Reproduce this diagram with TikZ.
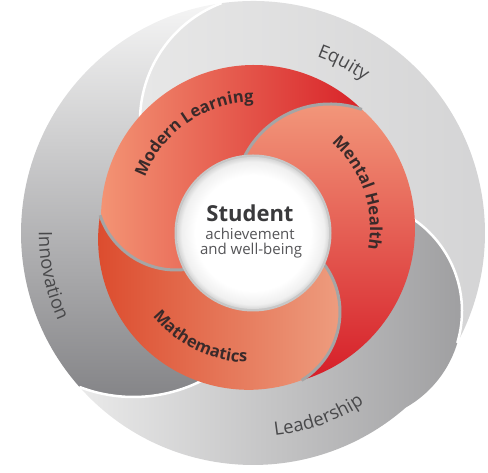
\documentclass[tikz,border=0pt]{standalone}
\usepackage{fontspec}
\setmainfont{Open Sans}
\usetikzlibrary{calc,decorations.text}
\definecolor{mlA}{RGB}{243,148,116}
\definecolor{mlB}{RGB}{216,34,40}
\definecolor{mhA}{RGB}{243,155,125}
\definecolor{mhB}{RGB}{214,30,40}
\definecolor{maA}{RGB}{238,158,128}
\definecolor{maB}{RGB}{220,76,46}
\definecolor{eqA}{RGB}{232,232,232}
\definecolor{eqB}{RGB}{212,212,213}
\definecolor{ldA}{RGB}{234,234,234}
\definecolor{ldB}{RGB}{156,156,158}
\definecolor{inA}{RGB}{245,245,245}
\definecolor{inB}{RGB}{130,130,133}
\definecolor{redtxt}{RGB}{58,42,42}
\definecolor{graytxt}{RGB}{72,72,74}
\definecolor{ctrtxt}{RGB}{58,58,60}
\definecolor{ctrsub}{RGB}{85,85,88}
\definecolor{headshadow}{RGB}{165,165,165}
\pgfdeclareradialshading{wdisc}{\pgfpoint{0bp}{0bp}}{color(0bp)=(white); color(19bp)=(white); color(23.5bp)=(black!6); color(25bp)=(black!16); color(50bp)=(black!16)}
\tikzset{
  graylabel/.style={decorate, decoration={text along path, text align=center, text color=graytxt,
     text={|\fontsize{18.5pt}{18.5pt}\selectfont|#1}}},
  redlabel/.style={decorate, decoration={text along path, text align=center, text color=redtxt,
     text={|\fontsize{16.5pt}{16.5pt}\selectfont\bfseries|#1}}},
  grayhead/.style={draw=white, line width=2.5pt},
  redhead/.style={draw=headshadow, line width=3pt}
}
\begin{document}
\begin{tikzpicture}[x=1pt,y=1pt]
\useasboundingbox (0,0) rectangle (488,473);
\coordinate (O) at (253,240);
\coordinate (H1) at (176,283);
\coordinate (C1) at (254,255);
\coordinate (H2) at (330,273);
\coordinate (C2) at (256,245);
\coordinate (H3) at (260,161);
\coordinate (C3) at (248.6,233.7);
\coordinate (G1) at (266,352);
\coordinate (G2) at (351,162);
\coordinate (G3) at (133.5,227);

% ---- gray ring ----
\shade[left color=eqA, right color=eqB]
  ($(G1)+(200:126pt)$) arc[start angle=200, end angle=110.65, radius=126pt]
  -- ($(O)+(97.8:232pt)$) arc[start angle=97.8, end angle=-28.3, radius=232pt]
  -- ($(G2)+(-16.7:111pt)$) arc[start angle=-16.7, end angle=150, radius=111pt]
  -- cycle;
\shade[left color=ldA, right color=ldB]
  ($(G2)+(150:111pt)$) arc[start angle=150, end angle=-60.4, radius=111pt]
  -- ($(O)+(-48.8:232pt)$) arc[start angle=-48.8, end angle=-138.4, radius=232pt]
  -- ($(G3)+(-111:151pt)$) arc[start angle=-111, end angle=-50, radius=151pt]
  -- cycle;
\shade[top color=inA, bottom color=inB]
  ($(G3)+(-50:151pt)$) arc[start angle=-50, end angle=-111, radius=151pt]
  -- ($(O)+(221.6:232pt)$) arc[start angle=221.6, end angle=97.8, radius=232pt]
  -- ($(G1)+(110.65:126pt)$) arc[start angle=110.65, end angle=200, radius=126pt]
  -- cycle;
\path[grayhead] ($(G1)+(200:126pt)$) arc[start angle=200, end angle=110.65, radius=126pt];
\path[grayhead] ($(G2)+(150:111pt)$) arc[start angle=150, end angle=-16.7, radius=111pt];
\path[grayhead] ($(G3)+(-50:151pt)$) arc[start angle=-50, end angle=-111, radius=151pt];

% ---- gray labels ----
\path[graylabel={Equity}] ($(O)+(95:188pt)$) arc[start angle=95, end angle=29, radius=188pt];
\path[graylabel={Leadership}] ($(O)+(-105:204pt)$) arc[start angle=-105, end angle=-35.8, radius=204pt];
\path[graylabel={Innovation}] ($(O)+(162:214pt)$) arc[start angle=162, end angle=222, radius=214pt];

% ---- red ring ----
\shade[left color=mlA, right color=mlB]
  ($(H1)+(-82.6:80pt)$) arc[start angle=-82.6, end angle=-161.6, radius=80pt]
  -- ($(C1)+(179:153pt)$) arc[start angle=179, end angle=45.2, radius=153pt]
  -- ($(H2)+(70.6:96pt)$) arc[start angle=70.6, end angle=153.7, radius=96pt]
  -- cycle;
\shade[top color=mhA, bottom color=mhB]
  ($(H2)+(153.7:96pt)$) arc[start angle=153.7, end angle=70.6, radius=96pt]
  -- ($(C2)+(48.2:159pt)$) arc[start angle=48.2, end angle=-73.3, radius=159pt]
  -- ($(H3)+(-58.6:80pt)$) arc[start angle=-58.6, end angle=38, radius=80pt]
  -- cycle;
\shade[left color=maB, right color=maA]
  ($(H3)+(38:80pt)$) arc[start angle=38, end angle=-58.6, radius=80pt]
  -- ($(C3)+(-69.4:150.5pt)$) arc[start angle=-69.4, end angle=-189.2, radius=150.5pt]
  -- ($(H1)+(-161.6:80pt)$) arc[start angle=-161.6, end angle=-82.6, radius=80pt]
  -- cycle;
\path[redhead] ($(H1)+(-82.6:80pt)$) arc[start angle=-82.6, end angle=-161.6, radius=80pt];
\path[redhead] ($(H2)+(153.7:96pt)$) arc[start angle=153.7, end angle=70.6, radius=96pt];
\path[redhead] ($(H3)+(38:80pt)$) arc[start angle=38, end angle=-58.6, radius=80pt];

% ---- red labels ----
\path[redlabel={Modern Learning}] ($(C1)+(175:116pt)$) arc[start angle=175, end angle=75, radius=116pt];
\path[redlabel={Mental Health}] ($(C2)+(70:114pt)$) arc[start angle=70, end angle=-32, radius=114pt];
\path[redlabel={Mathematics}] ($(C3)+(-165:123pt)$) arc[start angle=-165, end angle=-67, radius=123pt];

% ---- centre ----
\fill[black!22] (O) circle[radius=78.5pt];
\shade[shading=wdisc] (O) circle[radius=76pt];
\node[anchor=base, text=ctrtxt, inner sep=0pt] (stu) at (250,251.5)
  {\fontsize{22pt}{22pt}\selectfont\bfseries Student};
\node[anchor=base, text=ctrsub, inner sep=0pt] (ach) at (250,233)
  {\fontsize{15pt}{15pt}\selectfont achievement};
\node[anchor=base, text=ctrsub, inner sep=0pt] (wb) at (251,218)
  {\fontsize{15pt}{15pt}\selectfont and well-being};
\end{tikzpicture}
\end{document}
